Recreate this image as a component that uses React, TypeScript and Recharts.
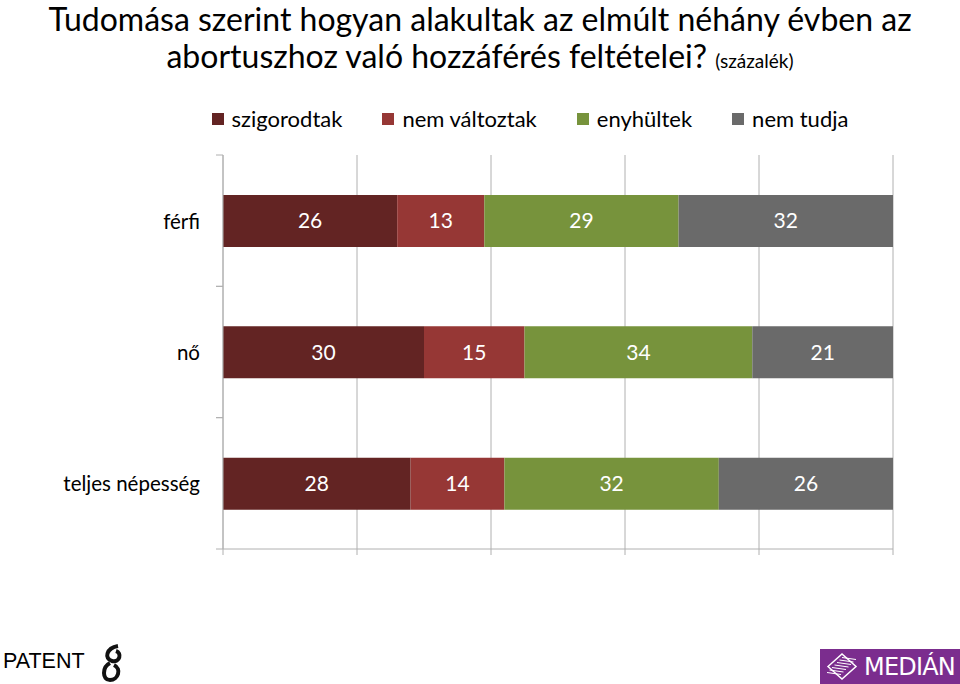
import React from "react";
import { BarChart, Bar, XAxis, YAxis, CartesianGrid, LabelList } from "recharts";

const categories = ["férfi", "nő", "teljes népesség"];
const szigorodtak = [26, 30, 28];
const nemValtoztak = [13, 15, 14];
const enyhultek = [29, 34, 32];
const nemTudja = [32, 21, 26];
const xTicks = [0, 20, 40, 60, 80, 100];

const seriesDefs = [
  { key: "szigorodtak", label: "szigorodtak", color: "#632423" },
  { key: "nemValtoztak", label: "nem változtak", color: "#963735" },
  { key: "enyhultek", label: "enyhültek", color: "#77933C" },
  { key: "nemTudja", label: "nem tudja", color: "#6A6A6A" },
];

const data = categories.map((name, i) => ({
  name,
  szigorodtak: szigorodtak[i],
  nemValtoztak: nemValtoztak[i],
  enyhultek: enyhultek[i],
  nemTudja: nemTudja[i],
}));

const FONT = "Lato, 'Open Sans', sans-serif";
const GRID = "#B0B0B0";
const TICK_MARGIN = 16;
const TICK_SIZE = 7;

const CategoryTick = (props: any) => {
  const { x, y, payload } = props;
  const off = payload && payload.offset ? payload.offset : 0;
  const x1 = x + TICK_MARGIN;
  const x2 = x1 + TICK_SIZE;
  return (
    <g>
      <line x1={x1} x2={x2} y1={y - off} y2={y - off} stroke={GRID} strokeWidth={1} />
      <line x1={x1} x2={x2} y1={y + off} y2={y + off} stroke={GRID} strokeWidth={1} />
      <text x={x} y={y} textAnchor="end" dominantBaseline="central" fontSize={20.5} fontFamily={FONT} fill="#000">
        {payload.value}
      </text>
    </g>
  );
};

const EmptyTick = () => <g />;

export default function App() {
  return (
    <div style={{ position: "absolute", left: 0, top: 0, width: 960, height: 684, background: "#fff", fontFamily: FONT, overflow: "hidden" }}>
      <div style={{ position: "absolute", left: 0, top: 0, width: 960, textAlign: "center", fontSize: 32, lineHeight: "37px", color: "#000" }}>
        <div style={{ whiteSpace: "nowrap" }}>Tudomása szerint hogyan alakultak az elmúlt néhány évben az</div>
        <div style={{ whiteSpace: "nowrap" }}>
          abortuszhoz való hozzáférés feltételei? <span style={{ fontSize: 19 }}>(százalék)</span>
        </div>
      </div>
      <div style={{ position: "absolute", left: 0, top: 105, width: 960, display: "flex", justifyContent: "center", paddingLeft: 100, boxSizing: "border-box", fontSize: 22 }}>
        {seriesDefs.map((s) => (
          <div key={s.key} style={{ display: "flex", alignItems: "center", margin: "0 20px" }}>
            <div style={{ width: 12, height: 12, background: s.color, marginRight: 8 }} />
            <span>{s.label}</span>
          </div>
        ))}
      </div>
      <div style={{ position: "absolute", left: 0, top: 0 }}>
        <BarChart
          width={960}
          height={684}
          data={data}
          layout="vertical"
          margin={{ top: 155, right: 67, bottom: 125, left: 23 }}
        >
          <CartesianGrid horizontal={false} vertical={true} stroke={GRID} strokeWidth={1} strokeOpacity={1} />
          <XAxis
            type="number"
            domain={[0, 100]}
            ticks={xTicks}
            height={10}
            axisLine={{ stroke: GRID }}
            tickLine={{ stroke: GRID }}
            tickSize={6}
            tick={EmptyTick}
            interval={0}
          />
          <YAxis
            type="category"
            dataKey="name"
            width={200}
            axisLine={{ stroke: GRID }}
            tickLine={false}
            tickSize={TICK_SIZE}
            tickMargin={TICK_MARGIN}
            tick={<CategoryTick />}
            interval={0}
          />
          {seriesDefs.map((s) => (
            <Bar key={s.key} dataKey={s.key} stackId="a" fill={s.color} barSize={52} isAnimationActive={false}>
              <LabelList dataKey={s.key} position="center" fill="#fff" fontSize={21} fontFamily={FONT} />
            </Bar>
          ))}
        </BarChart>
      </div>
      <div style={{ position: "absolute", left: 3, top: 649, fontFamily: "'Liberation Sans', Arial, sans-serif", fontSize: 21.5, color: "#000" }}>PATENT</div>
      <svg style={{ position: "absolute", left: 98, top: 643 }} width={30} height={40} viewBox="0 0 30 40">
        <path d="M20 3 C8 5 6 16 14 18 C22 20 24 10 18 8" fill="none" stroke="#111" strokeWidth={4} />
        <path d="M12 20 C4 24 4 37 12 37 C20 37 24 26 16 22" fill="none" stroke="#111" strokeWidth={4} />
      </svg>
      <div style={{ position: "absolute", left: 820, top: 649, width: 140, height: 35, background: "#7B2D8E", display: "flex", alignItems: "center" }}>
        <svg width={44} height={35} viewBox="0 0 44 35">
          {[0, 1, 2, 3, 4, 5, 6].map((i) => (
            <line key={i} x1={7 + i * 2.5} y1={17.5 - i * 2.5 + 6} x2={21 + i * 2.5} y2={17.5 + 8 - i * 2.5} stroke="#fff" strokeWidth={1} />
          ))}
          <polygon points="8,17.5 22,5 36,17.5 22,30" fill="none" stroke="#fff" strokeWidth={1.5} />
        </svg>
        <span style={{ color: "#fff", fontFamily: "'DejaVu Sans', sans-serif", fontSize: 24, letterSpacing: -0.8 }}>MEDIÁN</span>
      </div>
    </div>
  );
}
